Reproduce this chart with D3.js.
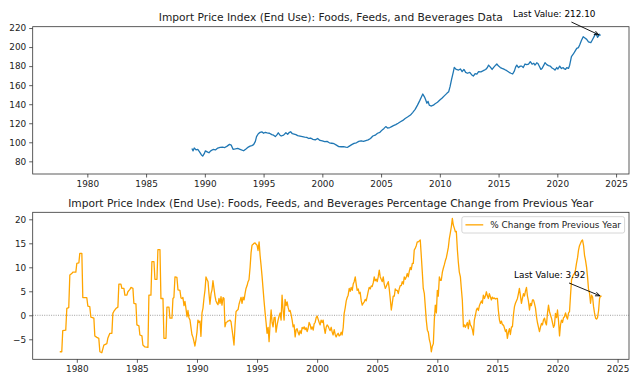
<html>
<head>
<meta charset="utf-8">
<script src="https://d3js.org/d3.v7.min.js"></script>
<style>
  body { margin: 0; background: #fff; }
  svg text { font-family: "DejaVu Sans", sans-serif; }
  .tick text { fill: #222; }
</style>
</head>
<body>
<script>
// Import price index level (top panel)
var levelYears = [1988.9,1989.0,1989.1,1989.25,1989.4,1989.55,1989.7,1989.82,1989.95,1990.05,1990.2,1990.35,1990.5,1990.7,1990.9,1991.1,1991.3,1991.5,1991.7,1991.9,1992.1,1992.25,1992.4,1992.6,1992.8,1993.0,1993.3,1993.5,1993.7,1993.85,1994.0,1994.15,1994.3,1994.4,1994.55,1994.7,1994.85,1995.0,1995.15,1995.3,1995.5,1995.7,1995.85,1996.0,1996.15,1996.25,1996.4,1996.5,1996.7,1996.9,1997.05,1997.2,1997.3,1997.45,1997.6,1997.75,1997.9,1998.1,1998.3,1998.5,1998.67,1998.85,1999.0,1999.2,1999.4,1999.6,1999.8,2000.0,2000.2,2000.4,2000.6,2000.8,2001.0,2001.2,2001.4,2001.6,2001.8,2002.0,2002.15,2002.3,2002.5,2002.7,2002.9,2003.1,2003.3,2003.5,2003.7,2003.9,2004.1,2004.3,2004.5,2004.7,2004.9,2005.1,2005.25,2005.4,2005.55,2005.75,2005.9,2006.05,2006.25,2006.45,2006.65,2006.85,2007.05,2007.25,2007.5,2007.7,2007.9,2008.1,2008.3,2008.45,2008.55,2008.7,2008.8,2008.9,2009.0,2009.1,2009.25,2009.45,2009.6,2009.8,2010.0,2010.2,2010.4,2010.6,2010.75,2010.87,2011.0,2011.15,2011.23,2011.4,2011.6,2011.75,2011.9,2012.05,2012.2,2012.35,2012.55,2012.7,2012.85,2013.0,2013.15,2013.3,2013.5,2013.7,2013.9,2014.05,2014.15,2014.3,2014.45,2014.6,2014.75,2014.85,2015.0,2015.15,2015.3,2015.5,2015.7,2015.9,2016.05,2016.2,2016.35,2016.45,2016.55,2016.7,2016.85,2016.97,2017.1,2017.25,2017.4,2017.55,2017.7,2017.85,2018.0,2018.1,2018.25,2018.35,2018.5,2018.6,2018.7,2018.85,2018.95,2019.1,2019.25,2019.4,2019.55,2019.7,2019.8,2019.95,2020.05,2020.2,2020.35,2020.5,2020.6,2020.7,2020.8,2020.95,2021.05,2021.2,2021.35,2021.5,2021.65,2021.8,2021.9,2022.05,2022.2,2022.35,2022.5,2022.65,2022.85,2023.0,2023.15,2023.25,2023.33,2023.42,2023.5,2023.58,2023.67];
var levelValues = [93.5,91,94,92,92.5,90,87,85.5,88,91,90,89,91,92.5,92,94,94.7,95,94.5,96,97.8,97,92.6,93,93.5,92.6,91.1,93,95,96,96.5,97.5,101,105.9,109,110.4,111,109.5,110.5,110,109.5,108,107.5,106,108,110,107.5,106.6,107.5,110,108.5,110.5,111.1,109,108.5,108,107,106.5,106,105.5,105.2,104,104.5,103.1,102.5,104,102,101.5,100.8,101,99.5,99,98.5,97,95.5,95.3,95.5,95,94.7,96,97.5,98.9,99.5,101,101.6,101,101.8,102.5,104,106.6,107.5,109.5,110.5,113,114.6,116.5,115,115.5,116.5,117.5,118.5,120,121.6,123,125,126.5,128.6,131.5,134.6,139,144,148,150.7,147.5,144.4,141,143,139,138.1,139,140.5,142,144.4,146.5,149,151.4,153,158.4,166,174,178.7,176.5,175.9,177,174.2,176.5,173.5,172.5,173.5,171,169.6,172,171.5,174.2,174,175.2,176.5,178.5,181.1,179,176.5,179,181,182.2,180,178.5,177.6,176.5,175.2,173.5,172.5,171.7,175,179,181.1,178.5,180,180,178.5,182.2,181.5,182,184.6,182,183,181.1,183.5,182.8,179,176.6,177.5,181,183.6,181.5,180.5,180,178,177,175.9,178.5,177,180,177.5,178.5,177,176.6,178.5,177.6,181,189.9,192.5,195.5,198.6,199.5,202.1,207,210.9,209.5,208.1,205.5,204.6,208,211.5,214.4,213.5,210.2,211.5,213.5,212.1];

// % change from previous year (bottom panel)
var changeYears = [1978.58,1978.75,1978.83,1979.08,1979.17,1979.33,1979.42,1979.58,1979.67,1979.92,1980.0,1980.17,1980.25,1980.42,1980.5,1980.83,1980.92,1981.08,1981.17,1981.42,1981.5,1981.67,1981.83,1981.92,1982.08,1982.25,1982.5,1982.58,1982.75,1982.92,1983.0,1983.08,1983.25,1983.42,1983.5,1983.67,1983.75,1983.92,1984.0,1984.17,1984.25,1984.42,1984.5,1984.67,1984.75,1984.92,1985.0,1985.17,1985.25,1985.42,1985.5,1985.67,1985.92,1986.0,1986.17,1986.25,1986.42,1986.5,1986.67,1986.75,1986.92,1987.0,1987.17,1987.25,1987.42,1987.5,1987.67,1987.75,1987.92,1988.0,1988.08,1988.17,1988.33,1988.42,1988.58,1988.67,1988.75,1988.83,1988.92,1989.0,1989.08,1989.17,1989.25,1989.33,1989.42,1989.5,1989.58,1989.67,1989.75,1989.83,1989.92,1990.0,1990.08,1990.17,1990.25,1990.33,1990.42,1990.5,1990.58,1990.67,1990.75,1990.83,1990.92,1991.0,1991.08,1991.17,1991.25,1991.33,1991.42,1991.5,1991.58,1991.67,1991.75,1991.83,1991.92,1992.0,1992.08,1992.17,1992.25,1992.33,1992.42,1992.5,1992.58,1992.67,1992.75,1992.83,1992.92,1993.0,1993.08,1993.17,1993.25,1993.33,1993.42,1993.5,1993.58,1993.67,1993.75,1993.83,1993.92,1994.0,1994.08,1994.17,1994.25,1994.33,1994.42,1994.5,1994.58,1994.67,1994.75,1994.83,1994.92,1995.0,1995.08,1995.17,1995.25,1995.33,1995.42,1995.5,1995.58,1995.67,1995.75,1995.83,1995.92,1996.0,1996.08,1996.17,1996.25,1996.33,1996.42,1996.5,1996.58,1996.67,1996.75,1996.83,1996.92,1997.0,1997.08,1997.17,1997.25,1997.33,1997.42,1997.5,1997.58,1997.67,1997.75,1997.83,1997.92,1998.0,1998.08,1998.17,1998.25,1998.33,1998.42,1998.5,1998.58,1998.67,1998.75,1998.83,1998.92,1999.0,1999.08,1999.17,1999.25,1999.33,1999.42,1999.5,1999.58,1999.67,1999.75,1999.83,1999.92,2000.0,2000.08,2000.17,2000.25,2000.33,2000.42,2000.5,2000.58,2000.67,2000.75,2000.83,2000.92,2001.0,2001.08,2001.17,2001.25,2001.33,2001.42,2001.5,2001.58,2001.67,2001.75,2001.83,2001.92,2002.0,2002.08,2002.17,2002.25,2002.33,2002.42,2002.5,2002.58,2002.67,2002.75,2002.83,2002.92,2003.0,2003.08,2003.17,2003.25,2003.33,2003.42,2003.5,2003.58,2003.67,2003.75,2003.83,2003.92,2004.0,2004.08,2004.17,2004.25,2004.33,2004.42,2004.5,2004.58,2004.67,2004.75,2004.83,2004.92,2005.0,2005.08,2005.17,2005.25,2005.33,2005.42,2005.5,2005.58,2005.67,2005.75,2005.83,2005.92,2006.0,2006.08,2006.17,2006.25,2006.33,2006.42,2006.5,2006.58,2006.67,2006.75,2006.83,2006.92,2007.0,2007.08,2007.17,2007.25,2007.33,2007.42,2007.5,2007.58,2007.67,2007.75,2007.83,2007.92,2008.0,2008.08,2008.17,2008.25,2008.33,2008.42,2008.5,2008.58,2008.67,2008.75,2008.83,2008.92,2009.0,2009.08,2009.17,2009.25,2009.33,2009.42,2009.5,2009.58,2009.67,2009.75,2009.83,2009.92,2010.0,2010.08,2010.17,2010.25,2010.33,2010.42,2010.5,2010.58,2010.67,2010.75,2010.83,2010.92,2011.0,2011.08,2011.17,2011.25,2011.33,2011.42,2011.5,2011.58,2011.67,2011.75,2011.83,2011.92,2012.0,2012.08,2012.17,2012.25,2012.33,2012.42,2012.5,2012.58,2012.67,2012.75,2012.83,2012.92,2013.0,2013.08,2013.17,2013.25,2013.33,2013.42,2013.5,2013.58,2013.67,2013.75,2013.83,2013.92,2014.0,2014.08,2014.17,2014.25,2014.33,2014.42,2014.5,2014.58,2014.67,2014.75,2014.83,2014.92,2015.0,2015.08,2015.17,2015.25,2015.33,2015.42,2015.5,2015.58,2015.67,2015.75,2015.83,2015.92,2016.0,2016.08,2016.17,2016.25,2016.33,2016.42,2016.5,2016.58,2016.67,2016.75,2016.83,2016.92,2017.0,2017.08,2017.17,2017.25,2017.33,2017.42,2017.5,2017.58,2017.67,2017.75,2017.83,2017.92,2018.0,2018.08,2018.17,2018.25,2018.33,2018.42,2018.5,2018.58,2018.67,2018.75,2018.83,2018.92,2019.0,2019.08,2019.17,2019.25,2019.33,2019.42,2019.5,2019.58,2019.67,2019.75,2019.83,2019.92,2020.0,2020.08,2020.17,2020.25,2020.33,2020.42,2020.5,2020.58,2020.67,2020.75,2020.83,2020.92,2021.0,2021.08,2021.17,2021.25,2021.33,2021.42,2021.5,2021.58,2021.67,2021.75,2021.83,2021.92,2022.0,2022.08,2022.17,2022.25,2022.33,2022.42,2022.5,2022.58,2022.67,2022.75,2022.83,2022.92,2023.0,2023.08,2023.17,2023.25,2023.33,2023.42,2023.5,2023.58,2023.67];
var changeValues = [-7.6,-7.6,-3.2,-3.1,1.45,1.6,8.4,8.7,9.0,9.0,10.8,10.9,12.9,12.9,3.7,3.7,1.9,1.8,-0.4,-0.6,-4.3,-4.6,-4.8,-7.6,-7.8,-6.2,-5.9,-4.8,-3.75,-3.75,0.4,0.8,1.4,1.7,6.5,6.5,5.6,5.6,4.2,4.2,4.9,5.4,5.8,5.6,2.5,2.4,-2.0,-2.2,-4.1,-4.3,-6.2,-6.6,-6.7,4.2,4.2,11.2,11.2,7.5,7.5,13.7,13.7,3.5,3.5,-4.8,-4.8,1.7,1.7,-0.6,-0.6,3.5,3.7,8.0,7.9,5.3,5.2,3.6,3.5,3.7,2.0,2.9,1.5,-0.3,1.0,-0.5,-1.0,-2.5,-4.0,-4.6,-5.5,-6.4,-5.0,-3.5,-1.0,-1.5,-1.2,-4.4,0.5,1.5,3.5,5.3,8.0,7.5,7.0,4.5,2.3,4.5,5.3,7.2,5.5,4.0,3.0,2.5,2.2,3.5,2.5,3.9,2.1,3.7,3.5,-2.4,-1.5,-1.4,-1.2,-1.1,-1.0,-1.3,-3.0,-4.5,-6.2,-2.0,0.75,1.0,1.2,2.3,3.0,3.75,2.5,3.8,3.2,4.5,5.6,6.2,7.0,7.4,10.0,13.0,14.6,14.8,15.0,15.1,14.8,14.6,13.5,15.3,12.5,10.5,8.0,5.5,3.0,0.5,-1.5,-3.75,-2.5,-5.5,-2.0,1.1,-1.5,-2.4,-0.5,-0.4,-3.5,-2.0,-1.0,-0.2,0.5,-1.0,4.2,1.0,-1.0,3.3,2.0,2.8,1.7,0.8,1.0,0.2,-1.0,-2.4,-2.0,-4.5,-3.0,-2.8,-3.6,-4.1,-3.2,-3.8,-2.5,-2.8,-2.4,-3.0,-2.6,-3.4,-2.7,-1.5,-2.0,-2.9,-2.4,-3.1,-1.8,-1.5,-0.5,-0.15,-0.8,-1.5,-2.0,-1.0,-1.5,-1.0,-2.5,-3.75,-2.5,-2.0,-2.3,-2.8,-3.2,-2.5,-3.5,-4.1,-3.0,-4.0,-4.5,-4.0,-3.75,-4.3,-4.1,-3.5,-4.1,-2.5,0.4,1.5,3.0,3.7,4.2,5.6,5.0,5.8,5.2,6.5,7.0,8.0,6.5,5.2,5.5,4.5,4.8,3.0,2.1,2.5,2.8,3.3,3.0,4.0,5.0,5.8,5.5,6.1,6.0,6.8,8.0,7.2,7.5,7.0,8.0,9.4,8.0,7.5,7.0,8.0,6.5,5.6,6.0,6.5,7.0,5.5,3.5,1.1,2.5,4.0,4.0,5.5,5.2,5.2,4.5,5.5,6.2,6.2,7.0,6.5,8.0,7.5,8.0,8.7,8.0,9.2,10.0,9.5,10.8,10.8,13.6,14.0,14.5,15.3,15.3,15.5,15.7,12.2,9.0,5.6,4.5,1.8,-1.0,-3.1,-3.5,-5.0,-5.9,-7.6,-6.5,-5.9,-1.0,2.1,0.5,5.2,4.0,8.0,7.3,7.3,9.0,9.8,10.5,11.4,12.0,13.0,14.2,16.0,17.1,18.5,20.2,18.8,18.1,17.4,17.5,13.6,11.0,9.0,8.0,5.5,3.2,-2.4,-2.0,-2.5,-2.0,-1.5,-2.8,-1.0,-2.0,-2.3,-3.0,-4.1,-1.0,0.0,1.1,1.5,1.0,2.0,2.5,3.0,2.5,4.2,3.5,4.0,4.9,4.0,3.5,4.5,3.8,3.2,3.8,3.5,3.6,3.4,3.5,3.5,1.0,-1.0,-1.7,-1.2,-2.0,-2.0,-2.6,-3.4,-3.0,-4.8,-3.5,-2.8,-4.0,-2.4,-2.4,0.0,1.8,2.5,3.0,3.5,4.5,5.6,4.0,2.5,3.5,4.5,4.0,5.0,5.8,4.0,3.0,1.1,2.5,2.0,3.2,3.2,2.5,1.5,-0.3,-1.5,-2.5,-3.4,-2.5,-1.7,-2.0,-1.0,-0.6,-1.5,-2.0,0.5,2.1,0.8,0.0,-0.6,-1.5,-2.5,-2.0,0.4,-0.5,1.1,-1.0,-4.3,-2.0,-1.0,-1.5,-0.5,-0.3,0.5,-0.3,-0.8,0.5,0.75,4.0,7.4,8.0,8.5,8.7,9.5,10.8,12.0,13.6,14.5,15.0,15.5,15.7,14.5,12.5,11.5,10.0,8.0,5.5,4.5,2.5,4.2,3.8,1.8,0.5,-0.6,-0.8,-0.5,1.0,3.5,4.0,3.92];

var yearTicks = [1980, 1985, 1990, 1995, 2000, 2005, 2010, 2015, 2020, 2025];
var levelTicks = [80, 100, 120, 140, 160, 180, 200, 220];
var changeTicks = [-5, 0, 5, 10, 15, 20];

var topTitle = "Import Price Index (End Use): Foods, Feeds, and Beverages Data";
var bottomTitle = "Import Price Index (End Use): Foods, Feeds, and Beverages Percentage Change from Previous Year";
var legendLabel = "% Change from Previous Year";

var W = 640, H = 384;
var svg = d3.select("body").append("svg")
    .attr("width", W)
    .attr("height", H);

var left = 32.7, right = 629;

function panel(top, bottom, xDomain, yDomain, xTicks, yTicks) {
    var g = svg.append("g");
    var x = d3.scaleLinear().domain(xDomain).range([left, right]);
    var y = d3.scaleLinear().domain(yDomain).range([bottom, top]);

    g.append("g")
        .attr("transform", "translate(0," + bottom + ")")
        .call(d3.axisBottom(x).tickValues(xTicks).tickFormat(d3.format("d")).tickSize(3.5).tickPadding(3))
        .call(function(a) { a.select(".domain").remove(); })
        .selectAll("text").style("font-size", "8.9px");

    g.append("g")
        .attr("transform", "translate(" + left + ",0)")
        .call(d3.axisLeft(y).tickValues(yTicks).tickFormat(d3.format("d")).tickSize(3.5).tickPadding(3))
        .call(function(a) { a.select(".domain").remove(); })
        .selectAll("text").style("font-size", "8.9px");

    g.selectAll(".tick line").attr("stroke", "#333").attr("stroke-width", 0.8);

    return {g: g, x: x, y: y, top: top, bottom: bottom};
}

function frame(p) {
    p.g.append("rect")
        .attr("x", left).attr("y", p.top)
        .attr("width", right - left).attr("height", p.bottom - p.top)
        .attr("fill", "none")
        .attr("stroke", "#333")
        .attr("stroke-width", 0.8);
}

function annotate(p, xv, yv, label) {
    var tx = p.x(xv), ty = p.y(yv);
    var lx = tx - 87.5, cy = ty - 21.5;
    var t = p.g.append("text")
        .attr("x", lx).attr("y", cy + 3.3)
        .style("font-size", "8.9px")
        .attr("fill", "#000")
        .text(label);
    var w = t.node().getComputedTextLength();
    var cx = lx + w / 2;
    var k = (8) / (ty - cy);
    var sx = cx + (tx - cx) * k, sy = cy + (ty - cy) * k;
    var ang = Math.atan2(ty - sy, tx - sx);
    var ex = tx - Math.cos(ang) * 1.8, ey = ty - Math.sin(ang) * 1.8;
    p.g.append("line")
        .attr("x1", sx).attr("y1", sy).attr("x2", ex).attr("y2", ey)
        .attr("stroke", "#000").attr("stroke-width", 0.9);
    var hl = 5, ha = 0.4;
    p.g.append("path")
        .attr("d", "M" + (ex - hl * Math.cos(ang - ha)) + "," + (ey - hl * Math.sin(ang - ha)) +
                   "L" + ex + "," + ey +
                   "L" + (ex - hl * Math.cos(ang + ha)) + "," + (ey - hl * Math.sin(ang + ha)))
        .attr("fill", "none").attr("stroke", "#000").attr("stroke-width", 0.9);
}

// top panel
var p1 = panel(26.7, 174, [1975.35, 2026.1], [66.7, 221.4], yearTicks, levelTicks);
var levelData = levelYears.map(function(d, i) { return [d, levelValues[i]]; });
p1.g.append("path")
    .datum(levelData)
    .attr("fill", "none")
    .attr("stroke", "#1f77b4")
    .attr("stroke-width", 1.3)
    .attr("stroke-linejoin", "round")
    .attr("d", d3.line().x(function(d) { return p1.x(d[0]); }).y(function(d) { return p1.y(d[1]); }));
frame(p1);
svg.append("text")
    .attr("x", (left + right) / 2).attr("y", 21)
    .attr("text-anchor", "middle")
    .style("font-size", "10.67px")
    .attr("fill", "#222")
    .text(topTitle);
annotate(p1, levelYears[levelYears.length - 1], levelValues[levelValues.length - 1],
    "Last Value: " + levelValues[levelValues.length - 1].toFixed(2));

// bottom panel
var p2 = panel(212.3, 359.3, [1976.33, 2025.95], [-9.17, 21.46], yearTicks, changeTicks);
p2.g.append("line")
    .attr("x1", left).attr("x2", right)
    .attr("y1", p2.y(0)).attr("y2", p2.y(0))
    .attr("stroke", "#888")
    .attr("stroke-width", 0.8)
    .attr("stroke-dasharray", "1,1.3");
var changeData = changeYears.map(function(d, i) { return [d, changeValues[i]]; });
p2.g.append("path")
    .datum(changeData)
    .attr("fill", "none")
    .attr("stroke", "orange")
    .attr("stroke-width", 1.3)
    .attr("stroke-linejoin", "round")
    .attr("d", d3.line().x(function(d) { return p2.x(d[0]); }).y(function(d) { return p2.y(d[1]); }));
frame(p2);
svg.append("text")
    .attr("x", (left + right) / 2).attr("y", 206.5)
    .attr("text-anchor", "middle")
    .style("font-size", "10.67px")
    .attr("fill", "#222")
    .text(bottomTitle);
annotate(p2, changeYears[changeYears.length - 1], changeValues[changeValues.length - 1],
    "Last Value: " + changeValues[changeValues.length - 1].toFixed(2));

// legend
var lg = p2.g.append("g");
var lgText = lg.append("text")
    .style("font-size", "8.9px")
    .attr("fill", "#222")
    .text(legendLabel);
var lw = lgText.node().getComputedTextLength();
var boxW = 3.6 + 17.8 + 7.1 + lw + 3.6, boxH = 16.3;
var bx = right - 4.4 - boxW, by = p2.top + 4.4;
lg.insert("rect", "text")
    .attr("x", bx).attr("y", by)
    .attr("width", boxW).attr("height", boxH)
    .attr("rx", 2)
    .attr("fill", "#fff").attr("fill-opacity", 0.8)
    .attr("stroke", "#ccc").attr("stroke-width", 0.8);
lg.append("line")
    .attr("x1", bx + 3.6).attr("x2", bx + 3.6 + 17.8)
    .attr("y1", by + boxH / 2).attr("y2", by + boxH / 2)
    .attr("stroke", "orange").attr("stroke-width", 1.3);
lgText.attr("x", bx + 3.6 + 17.8 + 7.1).attr("y", by + boxH / 2 + 3.2);
</script>
</body>
</html>
